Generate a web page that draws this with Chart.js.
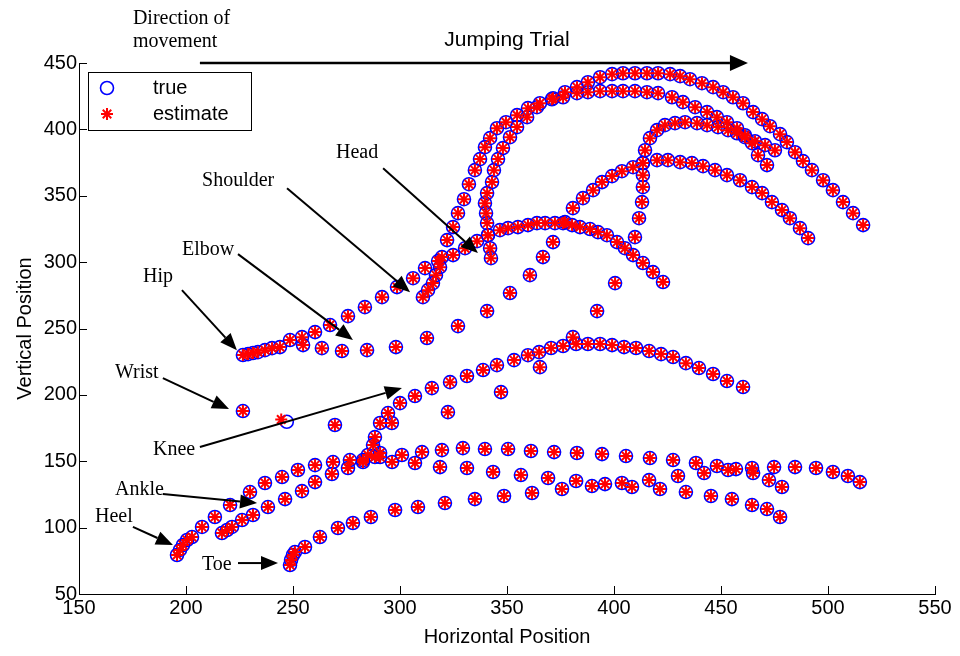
<!DOCTYPE html>
<html>
<head>
<meta charset="utf-8">
<script src="https://cdn.jsdelivr.net/npm/chart.js@4.4.0/dist/chart.umd.min.js"></script>
<style>
  html, body { margin: 0; padding: 0; background: #fff; }
</style>
</head>
<body>
<canvas id="jumpChart" width="960" height="656"></canvas>
<script>
// marker positions, one trajectory per body part
var headX = [310.7,313.1,315.4,316.8,318.7,319.6,322.0,324.8,327.1,329.9,332.2,335.0,337.4,339.7,342.1,345.3,349.5,354.7,359.8,365.4,371.5,377.1,382.7,387.8,393.5,399.1,404.2,409.8,415.4,420.6,426.2,430.9,435.5,441.1,446.3,451.0,455.6,460.3,465.0,469.2,472.9,477.6,480.8,484.6,488.3,492.5,497.7,502.3,507.0,511.7,516.4];
var headY = [273.6,278.9,284.2,290.2,296.2,303.8,316.6,326.4,336.9,347.4,358.7,369.3,377.6,386.6,393.4,400.9,405.4,410.7,416.0,419.7,423.5,428.0,431.8,435.5,439.3,441.6,442.3,442.3,442.3,442.3,441.6,440.1,437.8,434.8,431.8,428.0,424.2,419.7,413.0,407.7,402.4,396.4,390.4,382.8,376.1,369.3,361.7,354.2,345.2,336.9,327.9];

var shoulderX = [342.5,342.1,341.1,340.7,340.2,339.7,340.7,343.0,343.9,345.8,348.1,351.4,354.7,359.4,364.0,371.0,376.2,382.7,387.8,393.5,399.1,404.2,409.8,415.4,420.6,427.1,432.2,437.9,443.5,448.1,452.8,457.5,461.2,464.5,467.3,471.5];
var shoulderY = [303.0,310.5,320.3,329.4,336.9,344.4,352.0,360.3,369.3,377.6,385.9,394.1,401.7,409.2,416.7,422.7,424.2,427.3,428.0,428.8,428.8,428.8,428.8,428.0,427.3,424.2,420.5,416.7,413.0,409.2,405.4,400.9,395.6,389.6,380.6,373.1];

var elbowX = [254.7,263.5,272.9,284.6,298.1,312.6,327.1,340.7,351.4,360.7,366.8,371.5,377.1,380.8,385.5,390.2,394.4,399.1,403.7,408.9,413.5,420.1,425.2,430.9,436.4,441.6,447.2,452.8,458.9,464.5,469.2,473.8,478.5,482.2,486.9,490.7];
var elbowY = [237.5,235.2,233.0,233.7,236.0,242.8,251.8,263.1,276.7,290.2,303.8,315.1,330.1,340.7,348.2,354.2,360.3,364.8,368.5,371.5,374.6,376.8,376.8,375.3,374.6,372.3,369.3,365.5,361.7,356.5,352.0,345.2,339.2,333.1,325.6,318.1];

var wristX = [226.6,247.1,269.6,322.4,347.2,365.4,380.8,392.1,400.5,409.8,411.7,413.1,413.5,413.5,413.5,414.5,416.8,420.1,423.8,428.5,433.2,438.8,443.5,448.6,453.3,457.5,461.2,465.9,470.6,475.2];
var wristY = [187.8,179.7,177.3,187.0,202.1,220.9,243.5,263.1,284.2,318.8,333.1,345.2,356.5,365.5,374.6,384.3,393.4,399.4,403.2,404.7,405.4,404.7,403.2,401.7,399.4,397.1,394.1,391.1,388.1,384.3];
var wristEstX = [226.6,244.5,269.6,322.4,347.2,365.4,380.8,392.1,400.5,409.8,411.7,413.1,413.5,413.5,413.5,414.5,416.8,420.1,423.8,428.5,433.2,438.8,443.5,448.6,453.3,457.5,461.2,465.9,470.6,475.2];
var wristEstY = [187.8,181.5,177.3,187.0,202.1,220.9,243.5,263.1,284.2,318.8,333.1,345.2,356.5,365.5,374.6,384.3,393.4,399.4,403.2,404.7,405.4,404.7,403.2,401.7,399.4,397.1,394.1,391.1,388.1,384.3];

var hipX = [226.6,229.0,231.3,233.6,236.9,240.2,243.9,248.6,254.2,260.3,267.3,275.7,283.6,291.6,298.6,306.1,311.7,317.8,324.8,330.4,336.0,341.1,346.7,350.5,355.1,359.8,364.0,367.8,372.4,376.2,380.4,384.1,388.8,392.5,396.7,401.4,405.1,408.9,413.5,418.2,422.9];
var hipY = [230.0,230.7,231.5,232.2,233.7,235.2,236.0,241.3,243.5,247.3,252.6,259.3,266.1,273.6,281.2,287.9,295.5,300.8,305.3,310.5,315.8,320.3,324.1,325.6,326.4,327.9,329.4,329.4,329.4,329.4,327.9,326.4,324.9,322.6,320.3,315.1,310.5,305.3,299.3,292.5,285.0];

var kneeX = [282.7,285.0,287.4,288.3,288.3,290.7,290.7,294.4,296.2,300.0,307.0,314.9,323.4,331.3,338.8,345.3,353.3,359.8,365.0,370.6,376.2,382.3,387.8,393.5,399.1,404.7,410.3,416.4,422.0,427.6,433.6,439.7,446.3,452.8,460.3];
var kneeY = [150.9,154.7,162.2,168.2,153.2,153.2,178.8,186.3,178.8,193.8,199.1,205.1,209.6,214.2,218.7,222.4,226.2,229.9,232.2,235.3,236.8,238.3,238.3,238.3,237.5,236.0,235.3,233.0,230.7,228.5,223.9,220.2,215.7,210.4,205.9];

var ankleX = [216.8,219.2,221.5,226.2,231.3,238.3,246.3,254.2,260.3,268.2,275.7,282.7,296.3,307.0,318.7,331.3,343.5,356.5,369.2,382.3,395.8,408.4,416.4,429.9,442.1,453.3,465.0,472.4,478.5];
var ankleY = [95.9,98.2,100.5,105.7,109.5,115.5,121.5,127.5,134.3,140.4,144.9,149.4,149.4,148.7,145.6,144.9,141.9,139.6,137.4,135.1,132.8,130.6,135.8,138.9,141.1,143.4,141.1,135.8,130.6];

var heelX = [195.8,197.2,198.6,200.5,202.8,207.5,213.5,220.6,229.9,236.9,244.9,252.3,260.3,268.7,276.6,290.7,300.9,310.3,319.6,329.4,339.7,350.5,361.2,372.0,382.7,394.4,405.6,416.8,427.6,438.3,448.1,457.0,464.5,474.8,484.6,494.4,502.3,509.3,514.9];
var heelY = [79.4,83.2,86.9,90.7,92.9,100.5,108.0,117.0,126.8,133.6,138.1,143.4,147.1,149.4,150.9,156.2,154.7,156.9,158.4,159.9,159.2,159.2,157.7,156.9,156.2,155.4,153.9,152.4,150.9,148.7,146.4,144.1,144.9,145.6,145.6,144.9,141.9,138.9,134.3];

var toeX = [248.6,249.1,250.0,250.9,255.6,262.6,271.0,278.0,286.4,297.7,308.4,321.0,335.0,348.6,361.7,375.7,389.7,403.7,421.5,433.6,445.3,455.1,464.5,471.5,477.6];
var toeY = [71.8,75.6,79.4,81.6,85.4,92.9,99.7,103.5,108.0,113.3,115.5,118.5,121.5,123.8,126.1,129.1,131.3,133.6,129.1,126.8,123.8,121.5,117.0,114.0,108.0];

// callouts (data coordinates)
var noteText = ['Head', 'Shoulder', 'Elbow', 'Hip', 'Wrist', 'Knee', 'Ankle', 'Heel', 'Toe'];
var noteAt = [[270.1,382.1],[207.5,361.0],[198.1,309.0],[179.9,288.7],[166.8,216.4],[184.6,158.4],[166.8,128.3],[157.5,108.0],[207.5,71.8]];
var arrowFrom = [[292.1,370.8],[247.2,355.7],[224.3,306.0],[198.1,278.9],[189.2,212.6],[206.5,160.7],[189.2,125.3],[175.2,100.5],[224.3,73.3]];
var arrowTo = [[336.4,306.8],[304.7,277.4],[278.0,241.3],[223.8,233.7],[220.1,189.3],[300.9,205.1],[233.2,118.5],[193.9,86.9],[243.0,73.3]];

var sans = '"Liberation Sans", Arial, sans-serif';
var serif = '"Liberation Serif", "Times New Roman", serif';

function pts(xs, ys) {
  return xs.map(function (v, i) { return { x: v, y: ys[i] }; });
}

var truePts = [].concat(pts(headX, headY), pts(shoulderX, shoulderY), pts(elbowX, elbowY),
  pts(wristX, wristY), pts(hipX, hipY), pts(kneeX, kneeY), pts(ankleX, ankleY),
  pts(heelX, heelY), pts(toeX, toeY));
var estPts = [].concat(pts(headX, headY), pts(shoulderX, shoulderY), pts(elbowX, elbowY),
  pts(wristEstX, wristEstY), pts(hipX, hipY), pts(kneeX, kneeY), pts(ankleX, ankleY),
  pts(heelX, heelY), pts(toeX, toeY));

function arrow(ctx, x1, y1, x2, y2, len, half, lw) {
  var ang = Math.atan2(y2 - y1, x2 - x1);
  var bx = x2 - len * Math.cos(ang), by = y2 - len * Math.sin(ang);
  ctx.lineWidth = lw;
  ctx.beginPath();
  ctx.moveTo(x1, y1);
  ctx.lineTo(bx, by);
  ctx.stroke();
  ctx.beginPath();
  ctx.moveTo(x2, y2);
  ctx.lineTo(bx + half * Math.sin(ang), by - half * Math.cos(ang));
  ctx.lineTo(bx - half * Math.sin(ang), by + half * Math.cos(ang));
  ctx.closePath();
  ctx.fill();
}

function drawStar(ctx, cx, cy, r) {
  var d = r * Math.SQRT1_2;
  ctx.beginPath();
  ctx.moveTo(cx - r, cy); ctx.lineTo(cx + r, cy);
  ctx.moveTo(cx, cy - r); ctx.lineTo(cx, cy + r);
  ctx.moveTo(cx - d, cy - d); ctx.lineTo(cx + d, cy + d);
  ctx.moveTo(cx - d, cy + d); ctx.lineTo(cx + d, cy - d);
  ctx.stroke();
}

var extras = {
  id: 'extras',
  afterDraw: function (chart) {
    var ctx = chart.ctx, a = chart.chartArea;
    var sx = chart.scales.x, sy = chart.scales.y;
    ctx.save();
    ctx.strokeStyle = '#000';
    ctx.fillStyle = '#000';

    // inward ticks, matlab style
    ctx.lineWidth = 1;
    sx.ticks.forEach(function (t) {
      var p = Math.round(sx.getPixelForValue(t.value)) + 0.5;
      ctx.beginPath(); ctx.moveTo(p, a.bottom); ctx.lineTo(p, a.bottom - 8); ctx.stroke();
    });
    sy.ticks.forEach(function (t) {
      var p = Math.round(sy.getPixelForValue(t.value)) + 0.5;
      ctx.beginPath(); ctx.moveTo(a.left, p); ctx.lineTo(a.left + 8, p); ctx.stroke();
    });

    // direction arrow on top
    arrow(ctx, sx.getPixelForValue(206.5), sy.getPixelForValue(450),
      sx.getPixelForValue(462.6), sy.getPixelForValue(450), 18, 8, 2.5);
    ctx.font = '21px ' + sans;
    ctx.textAlign = 'center';
    ctx.textBaseline = 'middle';
    ctx.fillText('Jumping Trial', sx.getPixelForValue(350), sy.getPixelForValue(467.2));
    ctx.font = '20px ' + serif;
    ctx.textAlign = 'left';
    ctx.fillText('Direction of', sx.getPixelForValue(175.2), sy.getPixelForValue(483.7));
    ctx.fillText('movement', sx.getPixelForValue(175.2), sy.getPixelForValue(465.7));

    // body part callouts
    noteText.forEach(function (txt, i) {
      ctx.fillText(txt, sx.getPixelForValue(noteAt[i][0]), sy.getPixelForValue(noteAt[i][1]));
      arrow(ctx, sx.getPixelForValue(arrowFrom[i][0]), sy.getPixelForValue(arrowFrom[i][1]),
        sx.getPixelForValue(arrowTo[i][0]), sy.getPixelForValue(arrowTo[i][1]), 17, 7, 2);
    });

    // legend box
    var lx = a.left + 9, ly = a.top + 9;
    ctx.fillStyle = '#fff';
    ctx.fillRect(lx, ly, 163, 58);
    ctx.lineWidth = 1;
    ctx.strokeStyle = '#000';
    ctx.strokeRect(lx + 0.5, ly + 0.5, 163, 58);
    ctx.strokeStyle = '#0000ff';
    ctx.lineWidth = 1.6;
    ctx.beginPath(); ctx.arc(lx + 19, ly + 16, 6.5, 0, Math.PI * 2); ctx.stroke();
    ctx.strokeStyle = '#ff0000';
    ctx.lineWidth = 2;
    drawStar(ctx, lx + 19, ly + 42, 6);
    ctx.fillStyle = '#000';
    ctx.font = '20px ' + sans;
    ctx.textAlign = 'left';
    ctx.fillText('true', lx + 65, ly + 16);
    ctx.fillText('estimate', lx + 65, ly + 42);
    ctx.restore();
  }
};

var ctx = document.getElementById('jumpChart').getContext('2d');
var jumpChart = new Chart(ctx, {
  type: 'scatter',
  data: {
    datasets: [{
      label: 'estimate',
      data: estPts,
      pointStyle: 'star',
      pointRadius: 6,
      borderColor: '#ff0000',
      backgroundColor: '#ff0000',
      borderWidth: 2,
      order: 0
    }, {
      label: 'true',
      data: truePts,
      pointStyle: 'circle',
      pointRadius: 6.5,
      borderColor: '#0000ff',
      backgroundColor: 'rgba(0,0,0,0)',
      borderWidth: 1.6,
      order: 1
    }]
  },
  options: {
    responsive: false,
    animation: false,
    devicePixelRatio: 1,
    layout: {
      padding: { left: 0, right: 25, top: 63, bottom: 0 }
    },
    plugins: {
      legend: { display: false },
      tooltip: { enabled: false }
    },
    scales: {
      x: {
        type: 'linear',
        min: 150,
        max: 550,
        grid: { display: false },
        border: { display: true, color: '#000', width: 1 },
        ticks: { stepSize: 50, color: '#000', padding: -6, maxRotation: 0, font: { family: sans, size: 20 } },
        title: { display: true, text: 'Horizontal Position', color: '#000', font: { family: sans, size: 20 }, padding: { top: 0, bottom: 7 } },
        afterFit: function (s) { s.height = 62; }
      },
      y: {
        type: 'linear',
        min: 50,
        max: 450,
        grid: { display: false },
        border: { display: true, color: '#000', width: 1 },
        ticks: { stepSize: 50, color: '#000', padding: -6, font: { family: sans, size: 20 } },
        title: { display: true, text: 'Vertical Position', color: '#000', font: { family: sans, size: 20 }, padding: { top: 13, bottom: 0 } },
        afterFit: function (s) { s.width = 79; }
      }
    }
  },
  plugins: [extras]
});
</script>
</body>
</html>
